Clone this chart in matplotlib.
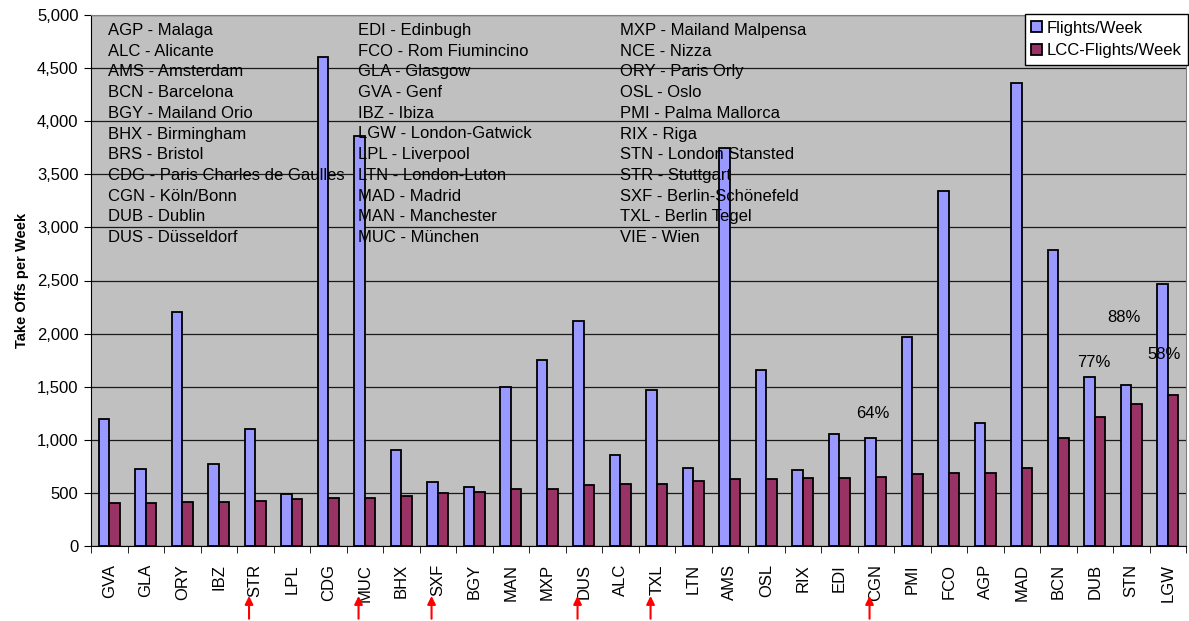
import numpy as np
import matplotlib
matplotlib.use("Agg")
import matplotlib.pyplot as plt
from matplotlib.ticker import FuncFormatter

plt.rcParams["font.family"] = ["Liberation Sans", "DejaVu Sans"]

# --- data ---------------------------------------------------------------
airports = ["GVA", "GLA", "ORY", "IBZ", "STR", "LPL", "CDG", "MUC", "BHX", "SXF",
            "BGY", "MAN", "MXP", "DUS", "ALC", "TXL", "LTN", "AMS", "OSL", "RIX",
            "EDI", "CGN", "PMI", "FCO", "AGP", "MAD", "BCN", "DUB", "STN", "LGW"]
flights = [1200, 725, 2200, 769, 1100, 487, 4600, 3860, 904, 600,
           558, 1494, 1748, 2116, 860, 1466, 737, 3745, 1660, 712,
           1058, 1017, 1971, 3346, 1158, 4360, 2790, 1588, 1513, 2467]
lcc_flights = [408, 408, 411, 411, 420, 439, 448, 455, 468, 496,
               511, 540, 540, 571, 587, 587, 609, 628, 631, 637,
               643, 650, 678, 684, 687, 731, 1014, 1218, 1340, 1422]

# airports marked with red arrows
marked = ["STR", "MUC", "SXF", "DUS", "TXL", "CGN"]

# percentage notes
pct_labels = ["64%", "77%", "88%", "58%"]
pct_airports = ["CGN", "DUB", "STN", "LGW"]

# code list printed inside the plot
codes_col1 = ["AGP - Malaga", "ALC - Alicante", "AMS - Amsterdam", "BCN - Barcelona",
              "BGY - Mailand Orio", "BHX - Birmingham", "BRS - Bristol",
              "CDG - Paris Charles de Gaulles", "CGN - Köln/Bonn", "DUB - Dublin",
              "DUS - Düsseldorf"]
codes_col2 = ["EDI - Edinbugh", "FCO - Rom Fiumincino", "GLA - Glasgow", "GVA - Genf",
              "IBZ - Ibiza", "LGW - London-Gatwick", "LPL - Liverpool",
              "LTN - London-Luton", "MAD - Madrid", "MAN - Manchester", "MUC - München"]
codes_col3 = ["MXP - Mailand Malpensa", "NCE - Nizza", "ORY - Paris Orly", "OSL - Oslo",
              "PMI - Palma Mallorca", "RIX - Riga", "STN - London Stansted",
              "STR - Stuttgart", "SXF - Berlin-Schönefeld", "TXL - Berlin Tegel",
              "VIE - Wien"]

# --- figure -------------------------------------------------------------
W, H = 1189, 621
fig = plt.figure(figsize=(W / 100, H / 100), dpi=100)
ax = fig.add_axes([91 / W, 1 - 546 / H, (1186 - 91) / W, (546 - 15) / H])
ax.set_facecolor("#C0C0C0")

x = np.arange(len(airports))
bw = 0.29
ax.bar(x - bw / 2, flights, bw, color="#9999FF", edgecolor="black", lw=1.3,
       label="Flights/Week", zorder=2)
ax.bar(x + bw / 2, lcc_flights, bw, color="#993366", edgecolor="black", lw=1.3,
       label="LCC-Flights/Week", zorder=2)

ax.set_xlim(-0.5, len(airports) - 0.5)
ax.set_ylim(0, 5000)
ax.set_yticks(np.arange(0, 5001, 500))
ax.yaxis.set_major_formatter(FuncFormatter(lambda v, p: f"{int(v):,}"))
ax.grid(axis="y", color="#1a1a1a", lw=0.9, zorder=1)
ax.set_axisbelow(True)

ax.set_xticks(x)
ax.set_xticklabels(airports, rotation=90, fontsize=12)
ax.set_xticks(np.arange(-0.5, len(airports)), minor=True)
ax.tick_params(axis="x", which="major", length=0, pad=13)
ax.tick_params(axis="x", which="minor", length=5, color="black")
ax.tick_params(axis="y", length=5, labelsize=12, pad=4)

for side in ("top", "right"):
    ax.spines[side].set_color("#808080")
for side in ("left", "bottom"):
    ax.spines[side].set_color("black")

ax.set_ylabel("Take Offs per Week", fontsize=10.5, fontweight="bold", labelpad=6)

# code list
to_ax = lambda px: (546 - px) / 531
for col, xpix in ((codes_col1, 108), (codes_col2, 358), (codes_col3, 620)):
    for k, s in enumerate(col):
        ax.text((xpix - 91) / 1095, to_ax(35 + 20.7 * k), s, transform=ax.transAxes,
                fontsize=12, va="baseline", ha="left", zorder=4)

# percentage notes (offsets relative to the airport's slot)
pct_dx = [-0.08, -0.03, -0.2, -0.09]
pct_y = [1202, 1688, 2112, 1758]
for lab, ap, dx, yy in zip(pct_labels, pct_airports, pct_dx, pct_y):
    ax.text(airports.index(ap) + dx, yy, lab, fontsize=12, ha="center",
            va="baseline", zorder=4)

# red arrows under selected airports
for ap in marked:
    i = airports.index(ap)
    ax.annotate("", xy=(i - 0.17, -0.094), xytext=(i - 0.17, -0.137),
                xycoords=ax.get_xaxis_transform(), textcoords=ax.get_xaxis_transform(),
                arrowprops=dict(arrowstyle="-|>", color="red", lw=1.5,
                                mutation_scale=12, shrinkA=0, shrinkB=0),
                annotation_clip=False)

leg = ax.legend(loc="upper right", bbox_to_anchor=(1188 / W, 1 - 14 / H),
                bbox_transform=fig.transFigure, borderaxespad=0, fontsize=12,
                fancybox=False, framealpha=1, edgecolor="black",
                handlelength=0.65, handleheight=0.65, handletextpad=0.25,
                borderpad=0.4, labelspacing=0.45)
leg.get_frame().set_linewidth(1)
leg.set_zorder(5)

fig.savefig("out.png", dpi=100)
